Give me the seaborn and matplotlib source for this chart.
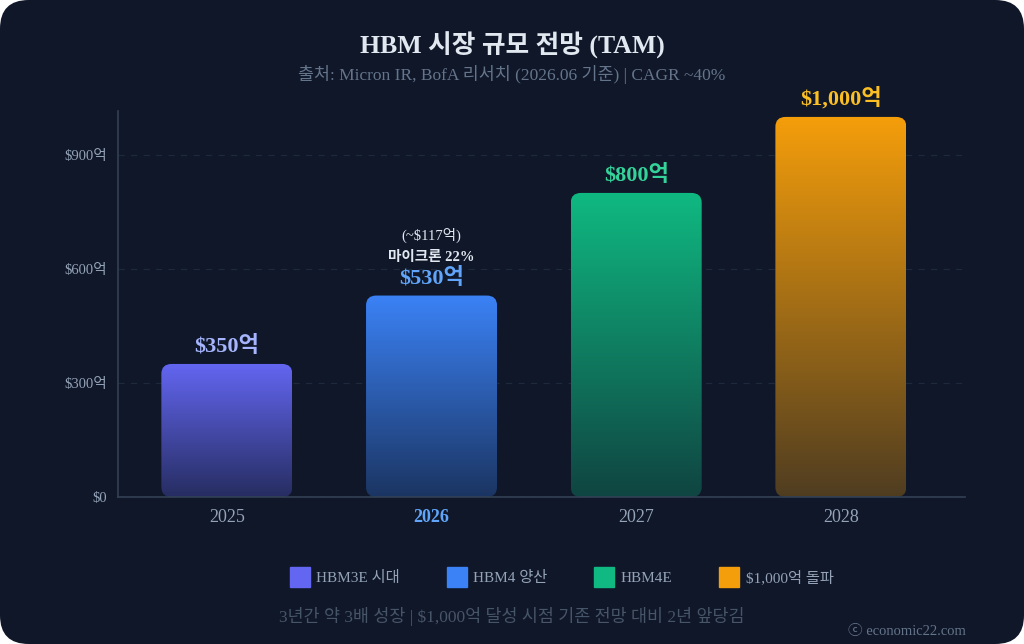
"""
HBM TAM outlook bar chart (dark card style)
"""
import numpy as np
import pandas as pd
import matplotlib
matplotlib.use('Agg')
import matplotlib.pyplot as plt
import seaborn as sns
from matplotlib.patches import FancyBboxPatch
from matplotlib.lines import Line2D
from matplotlib.colors import to_rgb

# data
years = ['2025', '2026', '2027', '2028']
tam = [350, 530, 800, 1000]
value_labels = ['$350억', '$530억', '$800억', '$1,000억']
series = ['HBM3E 시대', 'HBM4 양산', 'HBM4E', '$1,000억 돌파']
bar_colors = ['#6366f1', '#3b82f6', '#10b981', '#f59e0b']
label_colors = ['#a5b4fc', '#60a5fa', '#34d399', '#fbbf24']
yticks = [0, 300, 600, 900]
ytick_labels = ['$0', '$300억', '$600억', '$900억']
micron_note = '(~$117억)'
micron_share = '마이크론 22%'

BG = '#0f1729'
FONT = ['Liberation Serif', 'Noto Sans CJK KR', 'DejaVu Sans']

sns.set_theme(style='dark')
plt.rcParams['font.family'] = FONT

fig = plt.figure(figsize=(10.24, 6.44), dpi=100, facecolor='white')

# rounded card behind everything
card = FancyBboxPatch((0, 0), 1, 1, boxstyle='round,pad=0,rounding_size=0.028',
                      mutation_aspect=1024 / 644, transform=fig.transFigure,
                      facecolor=BG, edgecolor='none', zorder=-10)
fig.patches.append(card)

YMAX = 1015
ax = fig.add_axes([0.115, 0.2283, 0.8273, 0.5990])
ax.set_facecolor(BG)
ax.patch.set_alpha(0)

df = pd.DataFrame({'year': years, 'tam': tam})
sns.barplot(data=df, x='year', y='tam', ax=ax, width=0.64, color='#000000')

# swap flat bars for rounded gradient bars
for p, c in zip(ax.patches[:len(years)], bar_colors):
    x0, w, h = p.get_x(), p.get_width(), p.get_height()
    p.set_visible(False)
    rr = FancyBboxPatch((x0, 0), w, h, boxstyle='round,pad=0,rounding_size=0.05',
                        mutation_aspect=26 / 0.05, facecolor='none', edgecolor='none')
    ax.add_patch(rr)
    top = np.array(to_rgb(c))
    bg = np.array(to_rgb(BG))
    t = np.linspace(0, 1, 256)[:, None]  # 0 = top
    alpha = 1.0 - 0.72 * t
    grad = top[None, :] * alpha + bg[None, :] * (1 - alpha)
    img = np.repeat(grad[:, None, :], 2, axis=1)
    im = ax.imshow(img, extent=(x0, x0 + w, 0, h), aspect='auto', origin='upper',
                   zorder=2, interpolation='bilinear')
    im.set_clip_path(rr)

ax.set_xlim(-0.533, 3.606)
ax.set_ylim(0, YMAX)

# value labels
for i, (v, lab, col) in enumerate(zip(tam, value_labels, label_colors)):
    ax.text(i, v + 18, lab, ha='center', va='bottom', color=col,
            fontsize=16, fontweight='bold', zorder=5)

ax.text(1, 667, micron_note, ha='center', va='bottom', color='#e2e8f0', fontsize=10.5)
ax.text(1, 614, micron_share, ha='center', va='bottom', color='#e2e8f0',
        fontsize=10.5, fontweight='bold')

# axes styling
ax.set_yticks(yticks)
ax.set_yticklabels(ytick_labels)
ax.set_xlabel('')
ax.set_ylabel('')
ax.tick_params(axis='y', colors='#94a3b8', labelsize=10.5, length=0, pad=8)
ax.tick_params(axis='x', colors='#94a3b8', labelsize=13, length=0, pad=9)
for i, tl in enumerate(ax.get_xticklabels()):
    if i == 1:
        tl.set_color('#60a5fa')
        tl.set_fontweight('bold')
ax.grid(axis='y', color='#1e293b', linestyle=(0, (5, 5)), linewidth=0.9)
ax.grid(axis='x', visible=False)
for s in ['top', 'right']:
    ax.spines[s].set_visible(False)
for s in ['left', 'bottom']:
    ax.spines[s].set_visible(True)
    ax.spines[s].set_color('#334155')
    ax.spines[s].set_linewidth(1.2)

# titles
fig.text(0.5, 0.930, 'HBM 시장 규모 전망 (TAM)', ha='center', va='center',
         color='#e2e8f0', fontsize=18.5, fontweight='bold')
fig.text(0.5, 0.884, '출처: Micron IR, BofA 리서치 (2026.06 기준) | CAGR ~40%',
         ha='center', va='center', color='#64748b', fontsize=12.5)

# legend
handles = [Line2D([0], [0], marker='s', linestyle='none', markersize=14,
                  markerfacecolor=c, markeredgecolor=c) for c in bar_colors]
leg = fig.legend(handles, series, loc='center', bbox_to_anchor=(0.549, 0.1025),
                 ncol=4, frameon=False, fontsize=11, columnspacing=3.1,
                 handletextpad=0.5, handlelength=1.2)
for t in leg.get_texts():
    t.set_color('#94a3b8')

fig.text(0.5, 0.043, '3년간 약 3배 성장 | $1,000억 달성 시점 기존 전망 대비 2년 앞당김',
         ha='center', va='center', color='#475569', fontsize=12.5)
fig.text(0.943, 0.019, 'ⓒ economic22.com', ha='right', va='center',
         color='#64748b', fontsize=10.5,
         family=['Liberation Serif', 'Noto Sans CJK KR', 'DejaVu Sans'])

fig.savefig('out.png', dpi=100, facecolor='white')
